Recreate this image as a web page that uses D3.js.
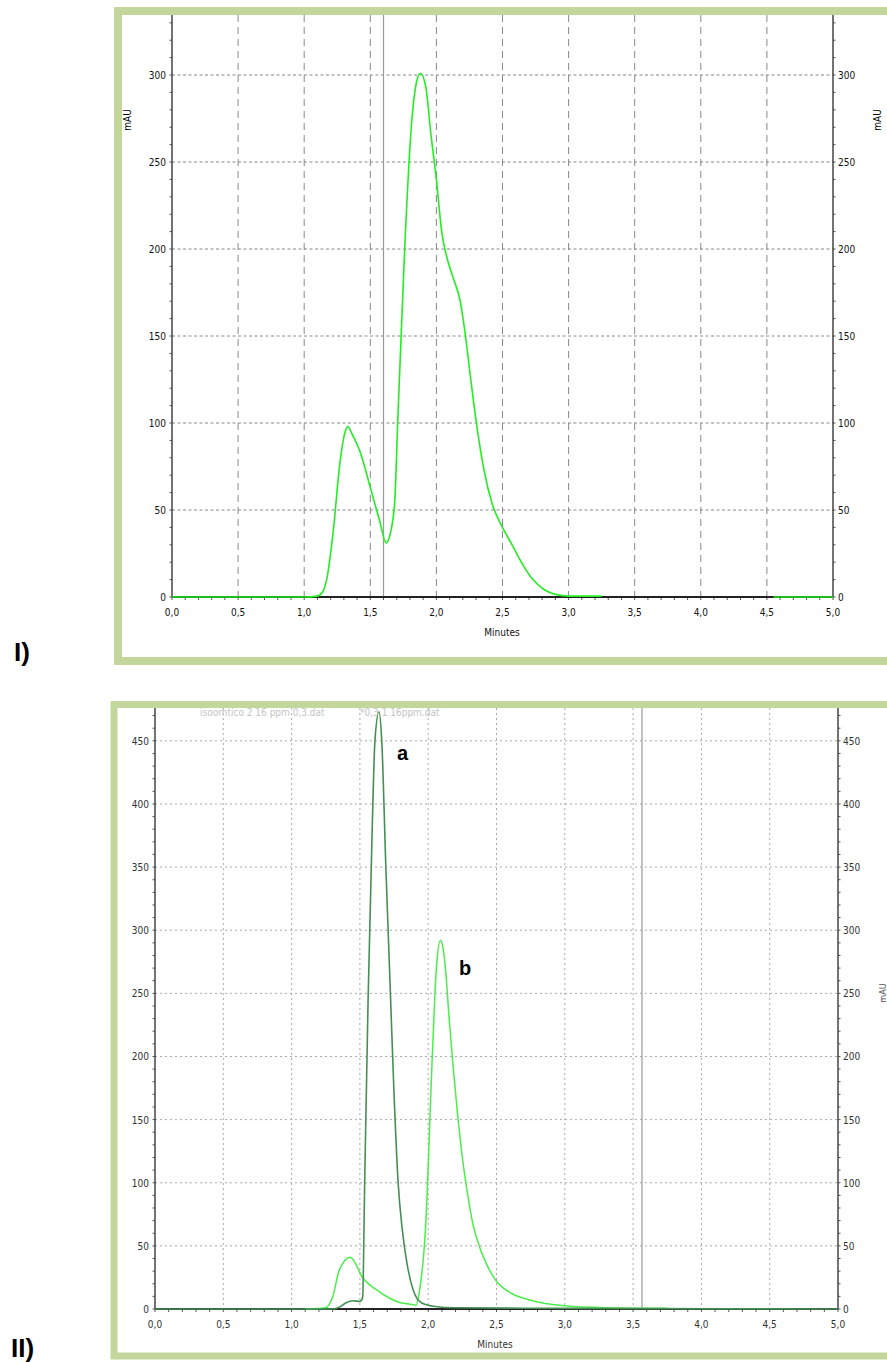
<!DOCTYPE html>
<html>
<head>
<meta charset="utf-8">
<script src="https://cdnjs.cloudflare.com/ajax/libs/d3/7.8.5/d3.min.js"></script>
<style>
body { margin: 0; background: #fff; }
text { font-family: "Liberation Sans Narrow", "DejaVu Sans Condensed", "Liberation Sans", sans-serif; }
</style>
</head>
<body>
<svg id="svg_chrom" width="887" height="1362"></svg>
<script>
// tick values shared by both chromatograms
var minuteTicks = [0, 0.5, 1, 1.5, 2, 2.5, 3, 3.5, 4, 4.5, 5];
var topMauTicks = [0, 50, 100, 150, 200, 250, 300];
var bottomMauTicks = [0, 50, 100, 150, 200, 250, 300, 350, 400, 450];

// panel I : single trace (minutes / mAU), null = gap in trace
var topTime  = [0, 1.0, 1.1, 1.14, 1.17, 1.22, 1.27, 1.31, 1.33, 1.36, 1.42, 1.5, 1.57, 1.62, 1.65, 1.67, 1.685, 1.71, 1.76, 1.81, 1.85, 1.88, 1.92, 1.96, 2.0, 2.04, 2.08, 2.12, 2.18, 2.22, 2.26, 2.31, 2.36, 2.42, 2.5, 2.58, 2.65, 2.73, 2.82, 2.9, 3.0, 3.25, 3.3, 4.5, 4.55, 5.0];
var topValue = [0, 0, 0.5, 3, 10, 38, 77, 95, 98, 94, 84, 63, 44, 31, 36, 44, 55, 106, 200, 270, 296, 301, 293, 265, 240, 210, 195, 185, 170, 150, 125, 96, 73, 54, 40, 29, 19, 10, 4, 1.5, 0.5, 0.5, null, null, 0, 0];

// panel II : trace a (dark) and trace b (light)
var aTime  = [0, 1.3, 1.35, 1.4, 1.45, 1.5, 1.52, 1.535, 1.56, 1.59, 1.61, 1.64, 1.66, 1.69, 1.72, 1.75, 1.78, 1.81, 1.845, 1.89, 1.95, 2.05, 2.2, 3.0, 5.0];
var aValue = [0, 0, 1.5, 5, 6.5, 6, 9, 100, 245, 380, 450, 473, 450, 350, 260, 170, 100, 63, 36, 15, 5, 2, 1, 0.5, 0];
var bTime  = [1.1, 1.25, 1.3, 1.35, 1.43, 1.52, 1.65, 1.77, 1.88, 1.91, 1.94, 1.98, 2.03, 2.06, 2.09, 2.11, 2.13, 2.15, 2.18, 2.21, 2.25, 2.29, 2.33, 2.38, 2.43, 2.5, 2.6, 2.75, 3.0, 3.3, 3.75];
var bValue = [0, 1, 9.5, 31, 41, 25, 13, 6, 3.5, 3, 17, 63, 200, 270, 292, 285, 265, 235, 195, 160, 120, 90, 66, 48, 35, 22, 13, 7, 2.5, 1, 0.5];

var svg = d3.select("#svg_chrom");
var fmt = function(d) { return d3.format(".1f")(d).replace(".", ","); };

function zip(t, v) {
	return t.map(function(d, i) { return { "time": d, "value": v[i] }; });
}

// green frames
svg.append("rect").attr("x", 118).attr("y", 11).attr("width", 800).attr("height", 650)
	.attr("fill", "#fff").attr("stroke", "#c3d69b").attr("stroke-width", 8);
svg.append("rect").attr("x", 114).attr("y", 704.5).attr("width", 800).attr("height", 651.5)
	.attr("fill", "#fff").attr("stroke", "#c3d69b").attr("stroke-width", 7);

svg.append("text").attr("x", 14).attr("y", 661).text("I)")
	.style("font-family", "Liberation Sans, Arial, sans-serif").style("font-weight", "bold").style("font-size", "26px");
svg.append("text").attr("x", 11).attr("y", 1357).text("II)")
	.style("font-family", "Liberation Sans, Arial, sans-serif").style("font-weight", "bold").style("font-size", "26px");

function drawPanel(o) {
	var g = svg.append("g");
	var x = d3.scaleLinear().domain([0, 5]).range([o.left, o.right]);
	var y = d3.scaleLinear().domain([0, o.yMax]).range([o.bottom, o.top]);

	// grid
	g.selectAll(".vgrid").data(minuteTicks.slice(1, -1)).enter().append("line")
		.attr("x1", x).attr("x2", x).attr("y1", o.top).attr("y2", o.bottom)
		.attr("stroke", o.gridColor).attr("stroke-dasharray", o.vDash);
	g.selectAll(".hgrid").data(o.yTicks).enter().append("line")
		.attr("x1", o.left).attr("x2", o.right).attr("y1", y).attr("y2", y)
		.attr("stroke", o.gridColor).attr("stroke-dasharray", o.hDash);

	// cursor line
	g.append("line").attr("x1", x(o.cursor)).attr("x2", x(o.cursor))
		.attr("y1", o.top).attr("y2", o.bottom).attr("stroke", "#999").attr("stroke-width", 1.2);

	// minor ticks
	g.selectAll(".xminor").data(d3.range(0, 51).map(function(i) { return i / 10; })).enter().append("line")
		.attr("x1", x).attr("x2", x).attr("y1", o.bottom).attr("y2", o.bottom + 3)
		.attr("stroke", "#555");
	var yMinor = d3.range(0, Math.floor(o.yMax / 10) + 1).map(function(i) { return i * 10; });
	g.selectAll(".yminorL").data(yMinor).enter().append("line")
		.attr("x1", o.left - 2.5).attr("x2", o.left).attr("y1", y).attr("y2", y).attr("stroke", "#555");
	g.selectAll(".yminorR").data(yMinor).enter().append("line")
		.attr("x1", o.right).attr("x2", o.right + 2.5).attr("y1", y).attr("y2", y).attr("stroke", "#555");

	// axes lines
	g.append("line").attr("x1", o.left).attr("x2", o.left).attr("y1", o.top).attr("y2", o.bottom)
		.attr("stroke", "#444").attr("stroke-width", 1.5);
	g.append("line").attr("x1", o.right).attr("x2", o.right).attr("y1", o.top).attr("y2", o.bottom)
		.attr("stroke", "#444").attr("stroke-width", 1.5);
	g.append("line").attr("x1", o.left).attr("x2", o.right).attr("y1", o.bottom).attr("y2", o.bottom)
		.attr("stroke", "#222").attr("stroke-width", 2);

	// tick labels
	g.selectAll(".xlab").data(minuteTicks).enter().append("text")
		.attr("x", x).attr("y", o.bottom + 19).attr("text-anchor", "middle")
		.style("font-size", "10px").attr("fill", o.textColor).text(fmt);
	g.selectAll(".ylabL").data(o.yTicks).enter().append("text")
		.attr("x", o.left - 6).attr("y", function(d) { return y(d) + 4; }).attr("text-anchor", "end")
		.style("font-size", "10px").attr("fill", o.textColor).text(function(d) { return d; });
	g.selectAll(".ylabR").data(o.yTicks).enter().append("text")
		.attr("x", o.right + 5).attr("y", function(d) { return y(d) + 4; })
		.style("font-size", "10px").attr("fill", o.textColor).text(function(d) { return d; });

	g.append("text").attr("x", o.minutesX).attr("y", o.bottom + 39).attr("text-anchor", "middle")
		.style("font-size", "10px").attr("fill", o.textColor).text("Minutes");

	var line = d3.line()
		.defined(function(d) { return d.value !== null; })
		.x(function(d) { return x(d.time); })
		.y(function(d) { return y(d.value); })
		.curve(d3.curveMonotoneX);
	o.series.forEach(function(s) {
		g.append("path").attr("d", line(s.data)).attr("fill", "none")
			.attr("stroke", s.color).attr("stroke-width", s.width);
	});
	return { "x": x, "y": y, "g": g };
}

var panelTop = drawPanel({
	left: 172, right: 833, top: 15, bottom: 597, yMax: 334.5,
	yTicks: topMauTicks, cursor: 1.6, gridColor: "#888", vDash: "7,5", hDash: "3,2.5",
	textColor: "#111", minutesX: 502,
	series: [{ data: zip(topTime, topValue), color: "#22ee22", width: 1.6 }]
});
panelTop.g.append("text").attr("transform", "translate(131,120) rotate(-90)").attr("text-anchor", "middle")
	.style("font-size", "10px").text("mAU");
panelTop.g.append("text").attr("transform", "translate(881,120) rotate(-90)").attr("text-anchor", "middle")
	.style("font-size", "10px").text("mAU");

var panelBottom = drawPanel({
	left: 155, right: 838, top: 708, bottom: 1309, yMax: 476,
	yTicks: bottomMauTicks, cursor: 3.565, gridColor: "#aaa", vDash: "2,3", hDash: "2,3",
	textColor: "#333", minutesX: 495,
	series: [
		{ data: zip(bTime, bValue), color: "#4aee4a", width: 1.5 },
		{ data: zip(aTime, aValue), color: "#458f55", width: 1.6 }
	]
});
panelBottom.g.append("text").attr("transform", "translate(886,993) rotate(-90)").attr("text-anchor", "middle")
	.style("font-size", "9px").attr("fill", "#555").text("mAU");
panelBottom.g.append("text").attr("x", 200).attr("y", 716).style("font-size", "10px").attr("fill", "#c4c4c4")
	.text("isoorhtico 2 16 ppm 0,3.dat");
panelBottom.g.append("text").attr("x", 360).attr("y", 716).style("font-size", "10px").attr("fill", "#c4c4c4")
	.text("*0,3 1 16ppm.dat");
panelBottom.g.append("text").attr("x", 397).attr("y", 760)
	.style("font-family", "Liberation Sans, Arial, sans-serif").style("font-weight", "bold").style("font-size", "20px").text("a");
panelBottom.g.append("text").attr("x", 459).attr("y", 975)
	.style("font-family", "Liberation Sans, Arial, sans-serif").style("font-weight", "bold").style("font-size", "20px").text("b");
</script>
</body>
</html>
